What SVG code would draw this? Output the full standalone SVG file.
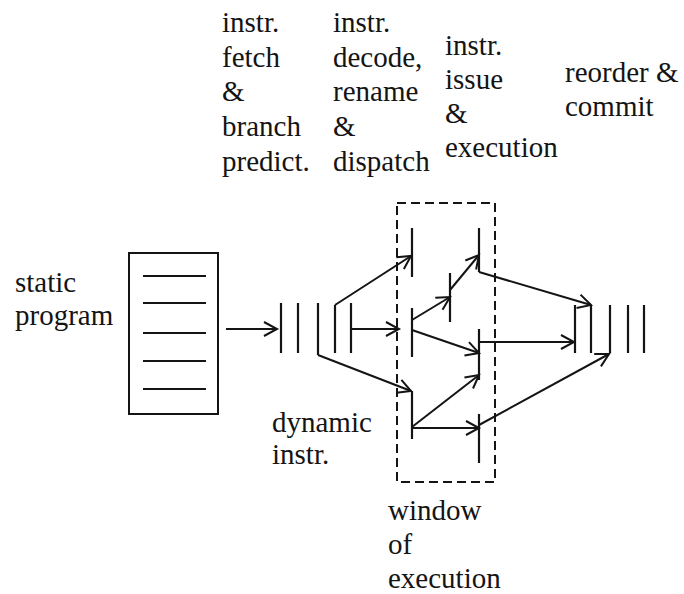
<svg xmlns="http://www.w3.org/2000/svg" width="684" height="594" viewBox="0 0 684 594">
  <style>
    .ln { stroke: #141414; stroke-width: 2; fill: none; stroke-linecap: butt; }
    .bar { stroke: #141414; stroke-width: 2.2; fill: none; }
    .arrow { stroke: #141414; stroke-width: 2; fill: none; marker-end: url(#arr); }
    .win { stroke: #141414; stroke-width: 2; fill: none; stroke-dasharray: 9 5; }
  </style>
  <defs>
    <marker id="arr" markerUnits="userSpaceOnUse" markerWidth="20" markerHeight="20" viewBox="-16 -10 20 20" refX="0" refY="0" orient="auto">
      <path d="M-13,-7 L0,0 L-13,7" fill="none" stroke="#141414" stroke-width="2"/>
    </marker>
  </defs>

  <g font-family="Liberation Serif, Times New Roman, serif" font-size="29" fill="#141414">
  <!-- stage headings -->
  <g id="stage-fetch">
    <text x="222" y="32">instr.</text>
    <text x="222" y="67">fetch</text>
    <text x="222" y="101">&amp;</text>
    <text x="222" y="136">branch</text>
    <text x="222" y="171">predict.</text>
  </g>
  <g id="stage-decode">
    <text x="333" y="32">instr.</text>
    <text x="333" y="67">decode,</text>
    <text x="333" y="101">rename</text>
    <text x="333" y="136">&amp;</text>
    <text x="333" y="171">dispatch</text>
  </g>
  <g id="stage-issue">
    <text x="445" y="55">instr.</text>
    <text x="445" y="89">issue</text>
    <text x="445" y="123">&amp;</text>
    <text x="445" y="157">execution</text>
  </g>
  <g id="stage-commit">
    <text x="565" y="82">reorder &amp;</text>
    <text x="565" y="116">commit</text>
  </g>
  <g id="static-label">
    <text x="15" y="292">static</text>
    <text x="15" y="325">program</text>
  </g>
  <g id="dynamic-label">
    <text x="272" y="432">dynamic</text>
    <text x="272" y="464">instr.</text>
  </g>
  <g id="window-label">
    <text x="388" y="520">window</text>
    <text x="388" y="554">of</text>
    <text x="388" y="588">execution</text>
  </g>
  </g>

  <!-- static program -->
  <g id="static-program">
    <rect class="ln" x="129" y="253" width="89" height="161"/>
    <path class="ln" d="M143,276H206M143,303H206M143,333H206M143,361H206M143,389H206"/>
  </g>

  <!-- dynamic instruction stream -->
  <g id="dynamic-instr">
    <path class="bar" d="M281,303V353M298,303V353M318,303V355M335,305V353M351,303V353"/>
  </g>

  <!-- window of execution -->
  <g id="window">
    <rect class="win" x="397" y="203" width="98" height="279"/>
  </g>
  <g id="win-dispatched">
    <path class="bar" d="M412,228V277M412,308V357M412,391V439"/>
  </g>
  <g id="win-issued">
    <path class="bar" d="M450,273V322M479,228V272M479,329V380M479,414V463"/>
  </g>

  <!-- reorder buffer -->
  <g id="commit">
    <path class="bar" d="M575,305V353M591,305V353M610,305V353M628,305V353M644,305V353"/>
  </g>

  <!-- connectors -->
  <g id="connectors">
    <line class="arrow" x1="226" y1="329" x2="277" y2="329"/>
    <line class="arrow" x1="335" y1="305" x2="411" y2="256"/>
    <line class="arrow" x1="351" y1="329" x2="399" y2="329"/>
    <line class="arrow" x1="318" y1="355" x2="411" y2="391"/>
    <line class="arrow" x1="412" y1="320" x2="450" y2="297"/>
    <line class="arrow" x1="450" y1="290" x2="479" y2="255"/>
    <line class="arrow" x1="412" y1="330" x2="479" y2="353"/>
    <line class="arrow" x1="412" y1="427" x2="479" y2="375"/>
    <line class="arrow" x1="412" y1="428" x2="479" y2="428"/>
    <line class="arrow" x1="479" y1="342" x2="574" y2="342"/>
    <line class="arrow" x1="479" y1="272" x2="591" y2="305"/>
    <line class="arrow" x1="479" y1="425" x2="609" y2="354"/>
  </g>
</svg>
